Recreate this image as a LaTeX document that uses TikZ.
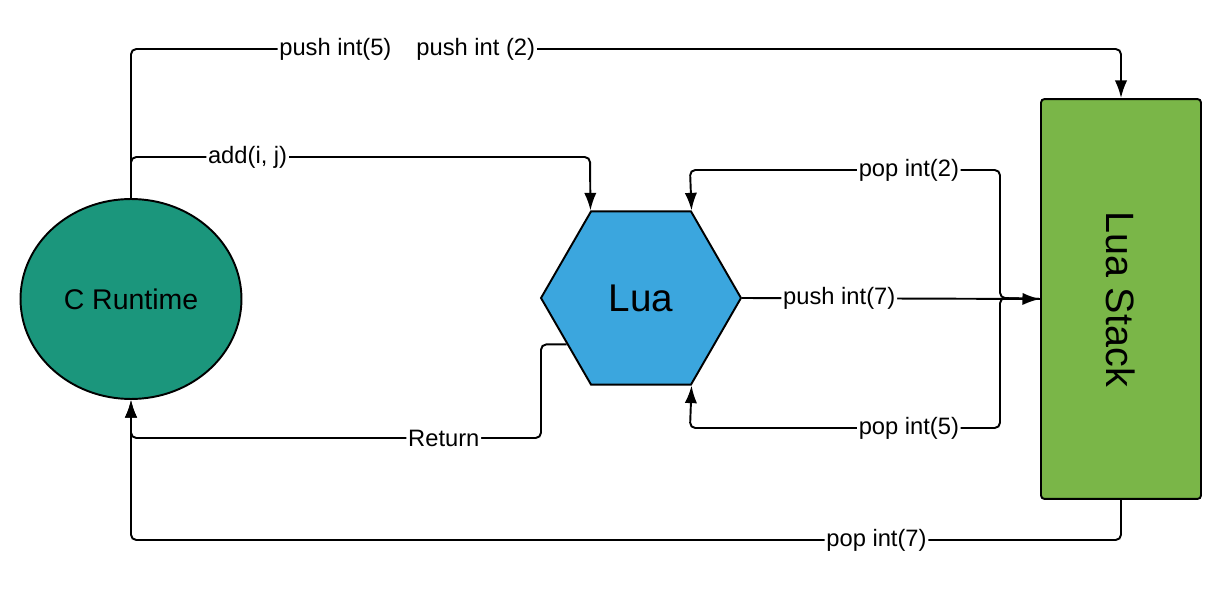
\documentclass[tikz,border=0pt]{standalone}
\usepackage{fontspec}
\setmainfont{Liberation Sans}
\usepackage{tikz}
\usetikzlibrary{arrows.meta, positioning, shapes}
\definecolor{CRT}{HTML}{1B967C}
\definecolor{LUA}{HTML}{3BA6DE}
\definecolor{STK}{HTML}{7AB648}
\tikzset{
  CRT/.style={% Style for the runtime ellipse
      ellipse, line width=1.1pt,
      minimum width=4.42cm,
      minimum height=4cm,
      font=\fontsize{16.2}{19}\selectfont,
      fill=CRT,
      draw=black,
  },
  LUA/.style={% Style for the interpreter hexagon
      regular polygon, regular polygon sides=6,
      line width=1.1pt,
      minimum size=4cm,
      inner sep=0pt,
      font=\fontsize{22}{26}\selectfont,
      fill=LUA,
      draw=black,
  },
  STK/.style={% Style for the stack box
      rectangle, rounded corners=2pt,
      line width=1.1pt,
      minimum width=3.2cm,
      minimum height=8cm,
      font=\fontsize{22.5}{26}\selectfont,
      fill=STK,
      draw=black,
  },
  lbl/.style={% labels sitting on the lines
      fill=white, inner sep=1pt,
      font=\fontsize{13.5}{16}\selectfont,
  },
  link/.style={
    line width=1.1pt, rounded corners=3pt,
  },
  arr/.style={
    link, ->, >={Latex[length=10pt,width=7pt]},
  },
}

\begin{document}
\begin{tikzpicture}[x=0.02cm, y=-0.02cm]
    \useasboundingbox (0,0) rectangle (1231,594);
    % shapes
    \node[CRT] (CR) at (131,299) {C Runtime};
    \node[LUA] (Lua) at (641,298) {Lua};
    \node[STK] (Stack) at (1121,299) {\rotatebox{-90}{Lua Stack}};
    % turning points
    \coordinate (tl) at (131,49);
    \coordinate (tr) at (1121,49);
    \coordinate (ad) at (590,157);
    \coordinate (pj) at (1000,298);
    \coordinate (p2) at (690,170);
    \coordinate (p5) at (690,428);
    \coordinate (rt) at (541,438);
    \coordinate (rb) at (131,438);
    \coordinate (sb) at (1121,540);
    \coordinate (cb) at (131,540);
    % connectors
    \draw[arr] (CR.north) -- (tl)
      -- node[lbl, pos=0.279] {push int(5)\hspace{0.5cm}push int (2)} (tr)
      -- (Stack.north);
    \draw[arr] (CR.north) |- node[lbl, pos=0.627] {add(i, j)} (ad) -- (Lua.120);
    \draw[arr] (Stack.west) -- (pj) |- node[lbl, pos=0.647] {pop int(2)} (p2) -- (Lua.60);
    \draw[arr] (Stack.west) -- (pj) |- node[lbl, pos=0.647] {pop int(5)} (p5) -- (Lua.-60);
    \draw[arr] (Lua.east) -- node[lbl, pos=0.326] {push int(7)} (Stack.west);
    \draw[arr] (Lua.212) -| (rt) -- node[lbl, pos=0.237] {Return} (rb) -- (CR.south);
    \draw[arr] (Stack.south) -- (sb) -- node[lbl, pos=0.247] {pop int(7)} (cb) -- (CR.south);
\end{tikzpicture}
\end{document}
